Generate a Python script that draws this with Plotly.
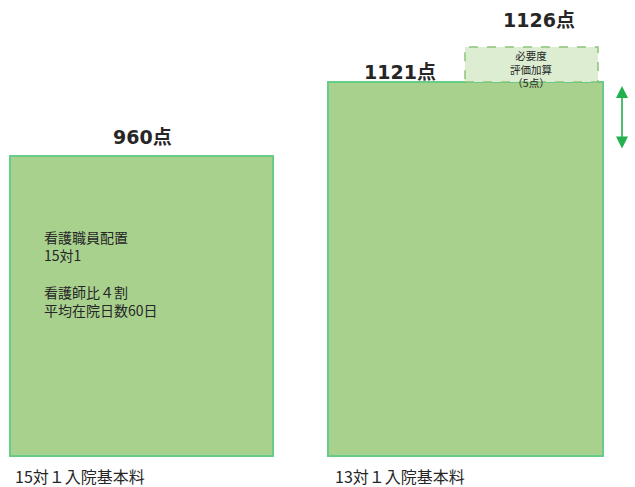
import plotly.graph_objects as go

# ---- data ----
categories = ["15対１入院基本料", "13対１入院基本料"]
points = [960, 1121]
value_labels = ["960点", "1121点"]
addon_points = 5
addon_lines = ["必要度", "評価加算", "（5点）"]
total_label = "1126点"
left_note = ["看護職員配置", "15対1", "", "看護師比４割", "平均在院日数60日"]

# ---- layout constants (schematic, not to scale) ----
PX_PER_PT = 0.4596
Y_TOP = 1299.4
BASE = 307          # visual baseline of bars
ADDON_H = 76        # schematic height of add-on box in axis units
Y_RANGE = [Y_TOP - 487 / PX_PER_PT, Y_TOP]
X_RANGE = [0, 635]
bar_x = [141.5, 465.5]
bar_w = [263, 275]
addon_x0, addon_x1 = 465, 598


def py(pix):
    """vertical pixel position -> axis value (for text placement)"""
    return Y_TOP - pix / PX_PER_PT


FONT = "Noto Sans CJK JP, Noto Sans, sans-serif"
NUMFONT = "DejaVu Sans, Noto Sans CJK JP, sans-serif"
FILL = "#a9d18e"
EDGE = "#66cc88"
TXT = "#262626"

fig = go.Figure()
fig.add_trace(go.Bar(
    x=bar_x, y=[p - BASE for p in points], base=BASE, width=bar_w,
    marker=dict(color=FILL, line=dict(color=EDGE, width=2)),
    hoverinfo="skip", showlegend=False,
))

top = points[1]
fig.add_shape(type="rect", xref="x", yref="y",
              x0=addon_x0, x1=addon_x1, y0=top, y1=top + ADDON_H,
              fillcolor="#dcedd2", line=dict(color="#8cc37a", width=1.5, dash="dash"),
              layer="above")

ann = []
# value labels above bars
ann.append(dict(x=142, y=py(137), text=f"<b>{value_labels[0]}</b>", showarrow=False,
                font=dict(size=19, color=TXT, family=NUMFONT)))
ann.append(dict(x=400, y=py(72), text=f"<b>{value_labels[1]}</b>", showarrow=False,
                font=dict(size=19, color=TXT, family=NUMFONT)))
ann.append(dict(x=539, y=py(20), text=f"<b>{total_label}</b>", showarrow=False,
                font=dict(size=19, color=TXT, family=NUMFONT)))
# add-on text
ann.append(dict(x=531, y=py(68.5), text="<br>".join(addon_lines), showarrow=False,
                borderpad=0, font=dict(size=10.5, color=TXT, family=FONT)))
# note inside left bar
ann.append(dict(x=43, y=py(273), text="<br>".join(left_note), showarrow=False,
                xanchor="left", align="left", borderpad=0,
                font=dict(size=14, color=TXT, family=FONT)))
# category labels
ann.append(dict(x=14, y=py(476), text=categories[0], showarrow=False, xanchor="left",
                borderpad=0, font=dict(size=16, color=TXT, family=FONT)))
ann.append(dict(x=334, y=py(476), text=categories[1], showarrow=False, xanchor="left",
                borderpad=0, font=dict(size=16, color=TXT, family=FONT)))
# difference arrow
ann.append(dict(x=622, y=py(86), ax=622, ay=py(150),
                xref="x", yref="y", axref="x", ayref="y", text="",
                showarrow=True, arrowside="end+start", arrowhead=2, arrowsize=1.5,
                arrowwidth=1.6, arrowcolor="#22b14c"))

fig.update_layout(
    width=635, height=487, margin=dict(l=0, r=0, t=0, b=0),
    paper_bgcolor="white", plot_bgcolor="white",
    xaxis=dict(range=X_RANGE, visible=False, fixedrange=True),
    yaxis=dict(range=Y_RANGE, visible=False, fixedrange=True),
    annotations=ann, bargap=0,
)
fig.write_html("out.html", post_script="document.body.style.margin='0';",
               config={"displayModeBar": False, "staticPlot": True})
